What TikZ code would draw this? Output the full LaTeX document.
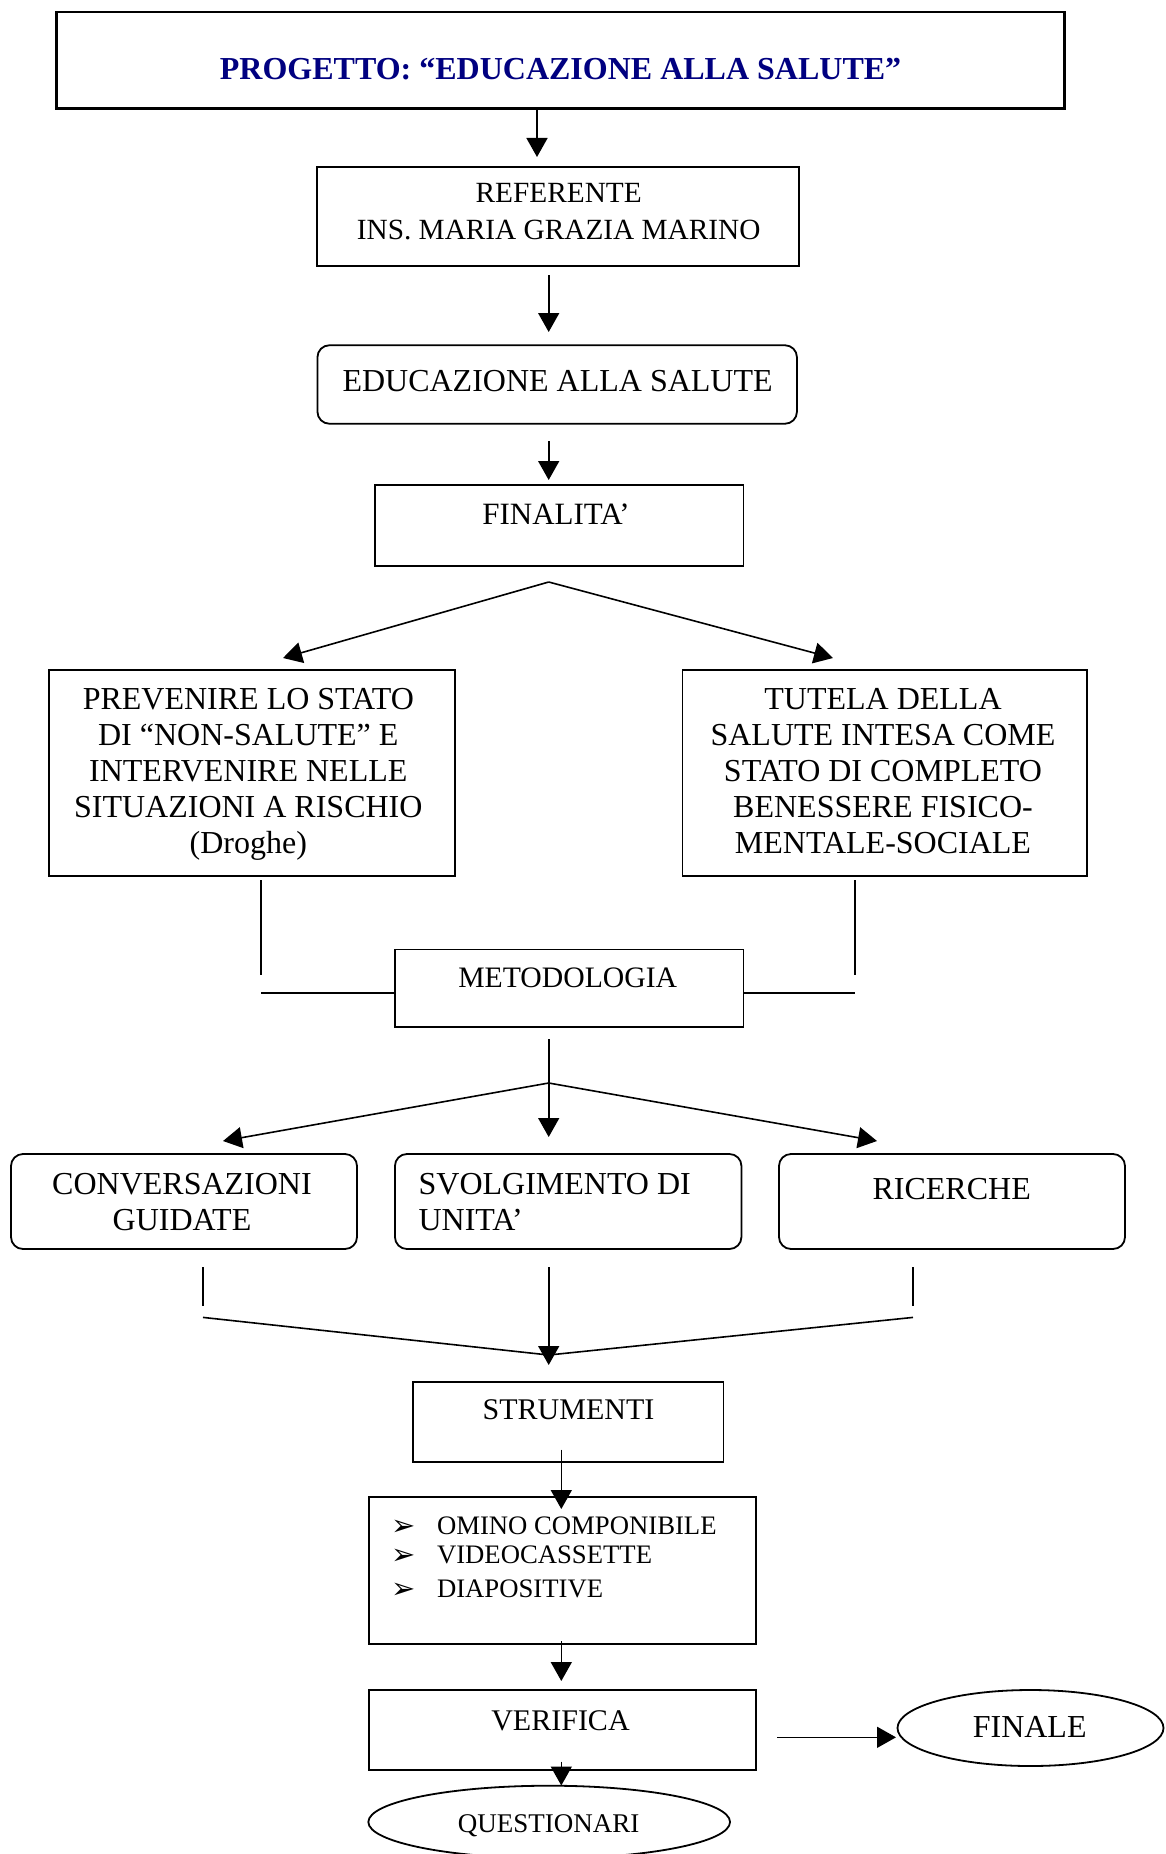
\documentclass[tikz,border=0pt]{standalone}
\usepackage{fontspec}
\setmainfont{Liberation Serif}
\newfontfamily\dejavu{DejaVu Sans}
\usetikzlibrary{arrows.meta,shapes.geometric}
\definecolor{titlenavy}{RGB}{0,0,128}
\newcommand{\mainfs}{\fontsize{30}{36}\selectfont}
\newcommand{\bigfs}{\fontsize{32}{36}\selectfont}
\newcommand{\listfs}{\fontsize{26.7}{30}\selectfont}
\newcommand{\bulmark}{\makebox[46pt][l]{\raisebox{-1pt}{\dejavu\fontsize{29}{30}\selectfont ➢}}}
\tikzset{
  box/.style={draw, line width=1.8pt, inner sep=0pt, outer sep=0pt},
  rbox/.style={box, rounded corners=12pt},
  obox/.style={draw, line width=1.8pt, ellipse, inner sep=0pt, outer sep=0pt},
  txt/.style={inner sep=0pt, outer sep=0pt, font=\mainfs, align=center},
  btxt/.style={txt, font=\bigfs},
  conn/.style={line width=1.6pt},
  arr/.style={conn, -{Triangle[length=19pt,width=21pt]}}
}
\begin{document}
\begin{tikzpicture}[x=1pt,y=-1pt]
\useasboundingbox (0,0) rectangle (1166,1854);
% boxes
\node[box, line width=2.7pt, minimum width=1008pt, minimum height=96.5pt] (title) at (560.6,60.4) {};
\node[txt, anchor=base, text=titlenavy, font=\fontsize{32}{38}\selectfont\bfseries] (titlet) at (560.6,79.3) {PROGETTO: “EDUCAZIONE ALLA SALUTE”};

\node[box, minimum width=482.6pt, minimum height=98.4pt] (ref) at (558,216.4) {};
\node[txt, anchor=base, font=\fontsize{29.3}{36}\selectfont] (reft) at (558.7,239) {REFERENTE\\INS. MARIA GRAZIA MARINO};

\node[rbox, minimum width=479.5pt, minimum height=78.5pt] (edu) at (557.2,384.5) {};
\node[btxt, anchor=base] (edut) at (557.6,391) {EDUCAZIONE ALLA SALUTE};

\node[box, minimum width=368.8pt, minimum height=80.3pt] (fin) at (559.1,525.5) {};
\node[txt, anchor=base, font=\fontsize{31}{36}\selectfont] (fint) at (556,524) {FINALITA’};

\node[box, minimum width=406pt, minimum height=206pt] (prev) at (252,772.7) {};
\node[btxt, anchor=base] (prevt) at (248.3,853.9) {PREVENIRE LO STATO\\DI “NON-SALUTE” E\\INTERVENIRE NELLE\\SITUAZIONI A RISCHIO\\(Droghe)};

\node[box, minimum width=404.5pt, minimum height=206pt] (tut) at (884.8,772.7) {};
\node[btxt, anchor=base] (tutt) at (883,853.9) {TUTELA DELLA\\SALUTE INTESA COME\\STATO DI COMPLETO\\BENESSERE FISICO-\\MENTALE-SOCIALE};

\node[box, minimum width=348.7pt, minimum height=77.5pt] (met) at (569.2,988.3) {};
\node[txt, anchor=base, font=\fontsize{29.7}{36}\selectfont] (mett) at (567.7,987.6) {METODOLOGIA};

\node[rbox, minimum width=346pt, minimum height=95pt] (conv) at (184,1201.5) {};
\node[btxt, anchor=base] (convt) at (182,1230.5) {CONVERSAZIONI\\GUIDATE};

\node[rbox, minimum width=346.5pt, minimum height=95pt] (svol) at (568.2,1201.5) {};
\node[btxt, anchor=base west, align=left] (svolt) at (418.6,1230.5) {SVOLGIMENTO DI\\UNITA’};

\node[rbox, minimum width=346pt, minimum height=95pt] (ric) at (952,1201.5) {};
\node[btxt, anchor=base] (rict) at (951.7,1199) {RICERCHE};

\node[box, minimum width=310.8pt, minimum height=80.2pt] (stru) at (568,1421.8) {};
\node[txt, anchor=base] (strut) at (568.5,1419.5) {STRUMENTI};

\node[box, minimum width=386.5pt, minimum height=146.4pt] (list) at (562.5,1570.5) {};
\node[txt, anchor=base west, font=\listfs] (l1) at (391,1534) {\bulmark OMINO COMPONIBILE};
\node[txt, anchor=base west, font=\listfs] (l2) at (391,1563.5) {\bulmark VIDEOCASSETTE};
\node[txt, anchor=base west, font=\listfs] (l3) at (391,1597) {\bulmark DIAPOSITIVE};

\node[box, minimum width=386.5pt, minimum height=80pt] (ver) at (562.5,1730) {};
\node[txt, anchor=base] (vert) at (560.5,1730) {VERIFICA};

\node[obox, minimum width=361.7pt, minimum height=72.6pt] (ques) at (549.2,1822) {};
\node[txt, anchor=base, font=\fontsize{27}{32}\selectfont] (quest) at (548.7,1832.3) {QUESTIONARI};

\node[obox, minimum width=266pt, minimum height=76pt] (fine) at (1030.5,1728) {};
\node[btxt, anchor=base] (finet) at (1029.7,1737) {FINALE};

% connector coordinates
\coordinate (a1s) at (537,110);   \coordinate (a1e) at (537,157);
\coordinate (a2s) at (548.7,275); \coordinate (a2e) at (548.7,332);
\coordinate (a3s) at (548.7,441); \coordinate (a3e) at (548.7,480);
\coordinate (apx1) at (548.7,582);
\coordinate (tipL) at (283,658);  \coordinate (tipR) at (833,658);
\coordinate (vLs) at (261,880);   \coordinate (vLe) at (261,975);
\coordinate (vRs) at (855,880);   \coordinate (vRe) at (855,975);
\coordinate (hL) at (261,993);    \coordinate (hR) at (855,993);
\coordinate (a4s) at (548.7,1039); \coordinate (a4e) at (548.7,1137);
\coordinate (apx2) at (548.7,1083);
\coordinate (tipL2) at (223,1141); \coordinate (tipR2) at (877,1141);
\coordinate (bLs) at (203,1267);  \coordinate (bLe) at (203,1306);
\coordinate (bRs) at (913,1267);  \coordinate (bRe) at (913,1306);
\coordinate (cL) at (203,1317.4); \coordinate (cR) at (913,1317.4);
\coordinate (apx3) at (548.7,1355);
\coordinate (a5s) at (548.7,1267); \coordinate (a5e) at (548.7,1365);
\coordinate (a6s) at (561.3,1449.5); \coordinate (a6e) at (561.3,1509);
\coordinate (a7s) at (561.3,1641); \coordinate (a7e) at (561.3,1681);
\coordinate (a8s) at (561.3,1761.6); \coordinate (a8e) at (561.3,1785.5);
\coordinate (a9s) at (777,1737.3); \coordinate (a9e) at (896,1737.3);

% connectors
\draw[arr] (a1s) -- (a1e);
\draw[arr] (a2s) -- (a2e);
\draw[arr] (a3s) -- (a3e);
\draw[arr] (apx1) -- (tipL);
\draw[arr] (apx1) -- (tipR);
\draw[conn] (vLs) -- (vLe);
\draw[conn] (vRs) -- (vRe);
\draw[conn] (hL) -- (met.west |- hL);
\draw[conn] (met.east |- hR) -- (hR);
\draw[arr] (a4s) -- (a4e);
\draw[arr] (apx2) -- (tipL2);
\draw[arr] (apx2) -- (tipR2);
\draw[conn] (bLs) -- (bLe);
\draw[conn] (bRs) -- (bRe);
\draw[conn] (cL) -- (apx3) -- (cR);
\draw[arr] (a5s) -- (a5e);
\draw[arr] (a6s) -- (a6e);
\draw[arr] (a7s) -- (a7e);
\draw[arr] (a8s) -- (a8e);
\draw[arr] (a9s) -- (a9e);
\end{tikzpicture}
\end{document}
